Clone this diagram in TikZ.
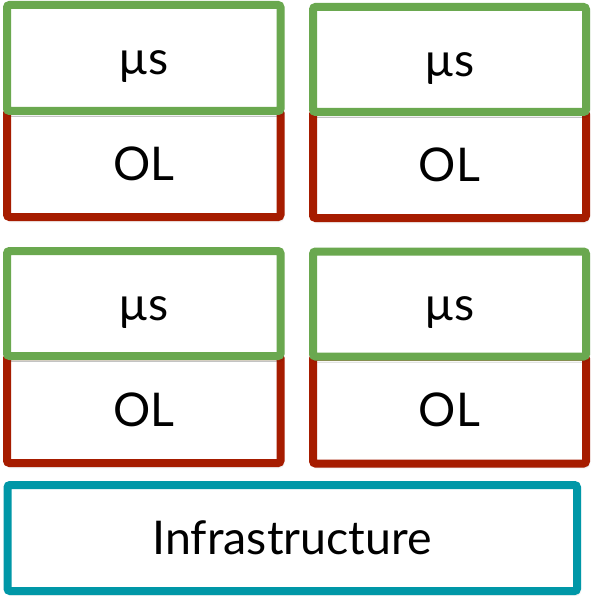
\documentclass[tikz,border=0pt]{standalone}
\usepackage{fontspec}
\setmainfont{Lato}
\usetikzlibrary{shadows.blur}
\definecolor{msgreen}{HTML}{6AA84F}
\definecolor{olred}{HTML}{A61C00}
\definecolor{infteal}{HTML}{0097A7}
\tikzset{
  layer/.style={fill=white, line width=8pt, rounded corners=2.5pt,
    inner sep=0pt, text=black, font=\fontsize{46.5}{55}\selectfont,
    text height=33.5pt, text depth=0pt,
    blur shadow={shadow xshift=1.5pt, shadow yshift=-2.5pt,
      shadow blur radius=3pt, shadow opacity=35}},
  svcbox/.style={layer, draw=msgreen},
  olbox/.style={layer, draw=olred},
  infbox/.style={layer, draw=infteal},
}
\begin{document}
\begin{tikzpicture}[x=1pt, y=-1pt]
\useasboundingbox (0,0) rectangle (590,596);
% top row: operating-layer boxes first, service boxes on top
\node[olbox, minimum width=273.5pt, minimum height=106pt] (ol1) at (143.75,164) {OL};
\node[svcbox, minimum width=273.5pt, minimum height=106pt] (ms1) at (143.75,58) {µs};
\node[olbox, minimum width=273pt, minimum height=106pt] (ol2) at (449.5,165) {OL};
\node[svcbox, minimum width=273pt, minimum height=105pt] (ms2) at (449.5,59.5) {µs};
% second row
\node[olbox, minimum width=273.5pt, minimum height=107pt] (ol3) at (143.75,409.5) {OL};
\node[svcbox, minimum width=273.5pt, minimum height=105pt] (ms3) at (143.75,303.5) {µs};
\node[olbox, minimum width=273pt, minimum height=107pt] (ol4) at (449.5,410) {OL};
\node[svcbox, minimum width=273pt, minimum height=105pt] (ms4) at (449.5,304) {µs};
% shared infrastructure
\node[infbox, minimum width=569.5pt, minimum height=106pt] (inf) at (292.25,538) {Infrastructure};
\end{tikzpicture}
\end{document}
